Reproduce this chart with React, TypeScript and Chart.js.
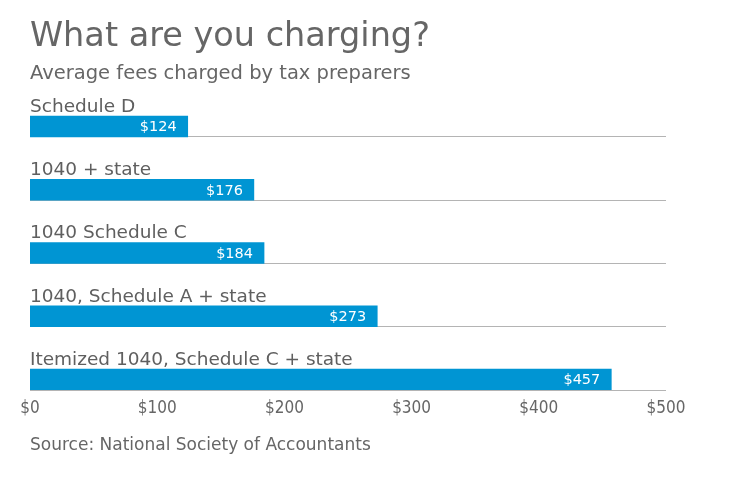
import React, { useEffect, useRef } from "react";
import { Chart, registerables } from "chart.js";

Chart.register(...registerables);

const titleText = "What are you charging?";
const subtitleText = "Average fees charged by tax preparers";
const sourceText = "Source: National Society of Accountants";
const categories = [
  "Schedule D",
  "1040 + state",
  "1040 Schedule C",
  "1040, Schedule A + state",
  "Itemized 1040, Schedule C + state",
];
const fees = [124, 176, 184, 273, 457];
const xTicks = [0, 100, 200, 300, 400, 500];

const BAR_COLOR = "#0095d3";
const MAIN_FONT = "'DejaVu Sans', Verdana, sans-serif";
const COND_FONT = "'DejaVu Sans Condensed', 'Liberation Sans Narrow', sans-serif";
const BAR_OFFSET = 10.5 / 63.25;

const textPlugin = {
  id: "textPlugin",
  afterDatasetsDraw(chart: any) {
    const { ctx, chartArea } = chart;
    const meta = chart.getDatasetMeta(0);
    ctx.save();
    meta.data.forEach((bar: any, i: number) => {
      const half = bar.height / 2;
      ctx.font = `14.5px ${MAIN_FONT}`;
      ctx.fillStyle = "#ffffff";
      ctx.textAlign = "right";
      ctx.textBaseline = "middle";
      ctx.fillText("$" + fees[i], bar.x - 11, bar.y + 1);
      ctx.font = `18.5px ${MAIN_FONT}`;
      ctx.fillStyle = "#5f5f5f";
      ctx.textAlign = "left";
      ctx.textBaseline = "alphabetic";
      ctx.fillText(categories[i], chartArea.left, bar.y - half - 4);
    });
    ctx.textAlign = "left";
    ctx.textBaseline = "alphabetic";
    ctx.fillStyle = "#666666";
    ctx.font = `33.5px ${MAIN_FONT}`;
    ctx.fillText(titleText, chartArea.left, 46);
    ctx.font = `19.5px ${MAIN_FONT}`;
    ctx.fillText(subtitleText, chartArea.left, 79);
    ctx.font = `17px ${MAIN_FONT}`;
    ctx.fillText(sourceText, chartArea.left, 450);
    ctx.restore();
  },
};

export default function App() {
  const canvasRef = useRef<HTMLCanvasElement | null>(null);

  useEffect(() => {
    if (!canvasRef.current) return;
    const chart = new Chart(canvasRef.current, {
      type: "bar",
      data: {
        datasets: [
          {
            data: fees.map((v, i) => ({ x: v, y: i })),
            backgroundColor: BAR_COLOR,
            borderWidth: 0,
            barThickness: 21,
          },
        ],
      },
      options: {
        indexAxis: "y",
        animation: false,
        responsive: true,
        maintainAspectRatio: false,
        layout: { padding: { left: 30, right: 74, top: 70, bottom: 62 } },
        plugins: {
          legend: { display: false },
          tooltip: { enabled: false },
          title: { display: false },
        },
        scales: {
          x: {
            type: "linear",
            min: 0,
            max: 500,
            afterBuildTicks: (scale: any) => {
              scale.ticks = xTicks.map((v) => ({ value: v }));
            },
            afterFit: (scale: any) => {
              scale.height = 30;
            },
            grid: { display: false, drawTicks: false },
            border: { display: false },
            ticks: {
              padding: 8,
              color: "#666666",
              font: { family: COND_FONT, size: 17 },
              callback: (v: any) => "$" + v,
            },
          },
          y: {
            type: "linear",
            reverse: true,
            offset: false,
            min: -0.893,
            max: categories.length - 1 + BAR_OFFSET,
            afterBuildTicks: (scale: any) => {
              scale.ticks = categories.map((_, i) => ({ value: i + BAR_OFFSET }));
            },
            afterFit: (scale: any) => {
              scale.width = 0;
            },
            grid: { color: "#b4b4b4", lineWidth: 1, drawTicks: false, offset: false },
            border: { display: false },
            ticks: { display: false },
          },
        },
      },
      plugins: [textPlugin],
    });
    return () => chart.destroy();
  }, []);

  return (
    <div style={{ position: "fixed", left: 0, top: 0, width: 740, height: 482, background: "#fff" }}>
      <canvas ref={canvasRef} />
    </div>
  );
}
